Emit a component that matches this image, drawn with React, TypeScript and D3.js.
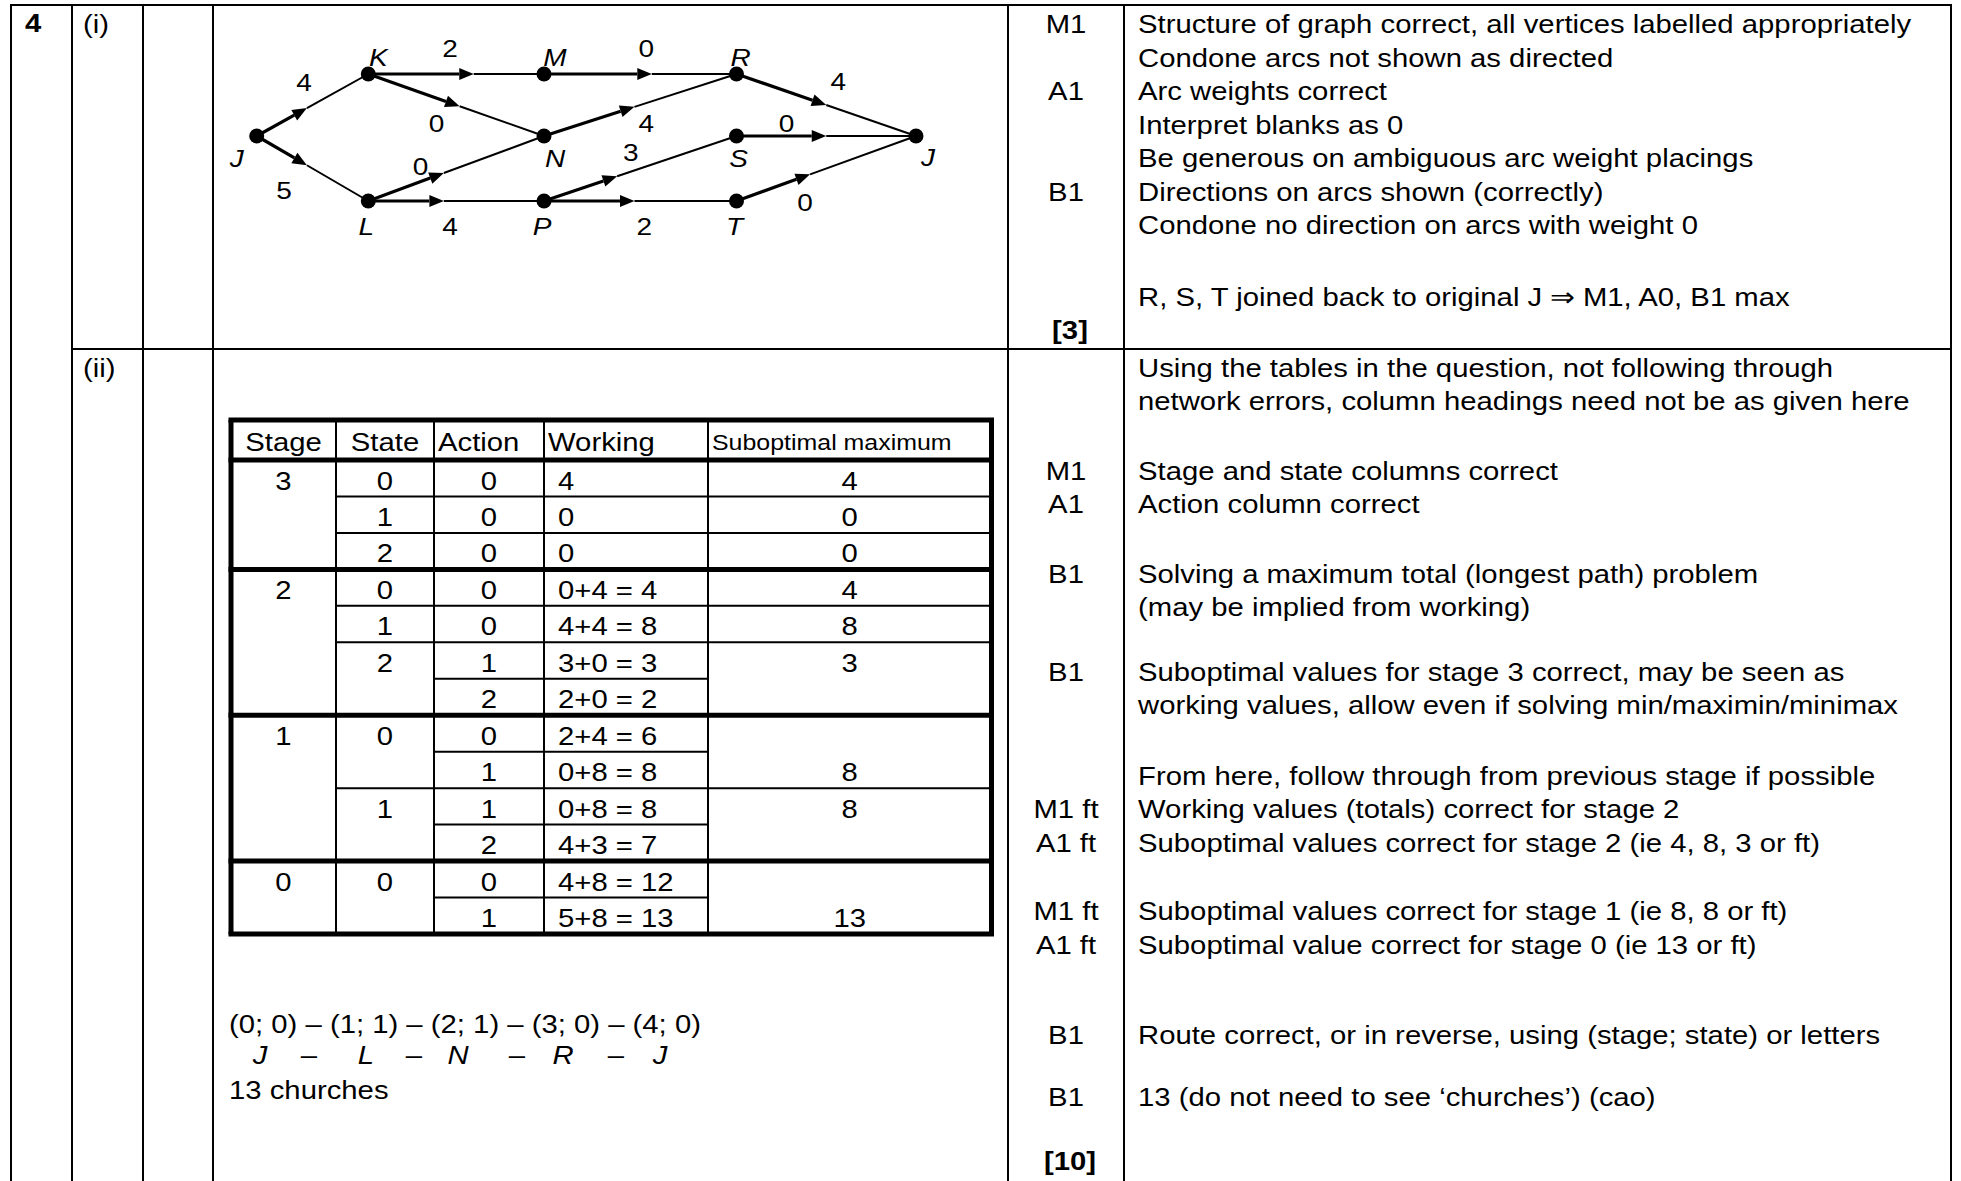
import React from 'react';
import * as d3 from 'd3';

// ---------------- DATA ----------------
// Network (part i)
const nodeIds = ['J0', 'K', 'L', 'M', 'N', 'P', 'R', 'S', 'T', 'J1'];
const nodeNames = ['J', 'K', 'L', 'M', 'N', 'P', 'R', 'S', 'T', 'J'];
const nodeStage = [0, 1, 1, 2, 2, 2, 3, 3, 3, 4];
const nodeState = [1, 0, 2, 0, 1, 2, 0, 1, 2, 1];

const edgeFrom = ['J0', 'J0', 'K', 'M', 'K', 'L', 'N', 'L', 'P', 'P', 'R', 'S', 'T'];
const edgeTo = ['K', 'L', 'M', 'R', 'N', 'N', 'R', 'P', 'S', 'T', 'J1', 'J1', 'J1'];
const edgeWeight = ['4', '5', '2', '0', '0', '0', '4', '4', '3', '2', '4', '0', '0'];

// Dynamic programming table (part ii)
const tableHeaders = ['Stage', 'State', 'Action', 'Working', 'Suboptimal maximum'];
const stageLabels = ['3', '', '', '2', '', '', '', '1', '', '', '', '0', ''];
const stateLabels = ['0', '1', '2', '0', '1', '2', '', '0', '', '1', '', '0', ''];
const actionLabels = ['0', '0', '0', '0', '0', '1', '2', '0', '1', '1', '2', '0', '1'];
const workingLabels = ['4', '0', '0', '0+4 = 4', '4+4 = 8', '3+0 = 3', '2+0 = 2', '2+4 = 6', '0+8 = 8', '0+8 = 8', '4+3 = 7', '4+8 = 12', '5+8 = 13'];
const suboptLabels = ['4', '0', '0', '4', '8', '3', '', '', '8', '8', '', '', '13'];
const stageBreaks = [3, 7, 11];          // rows starting a new stage
const stateBreaks = [1, 2, 4, 5, 9];     // rows starting a new state (within a stage)
const actionBreaks = [6, 8, 10, 12];     // rows starting a new action (same state)

const routeStates = '(0; 0) – (1; 1) – (2; 1) – (3; 0) – (4; 0)';
const routeLetters = ['J', '–', 'L', '–', 'N', '–', 'R', '–', 'J'];
const answerText = '13 churches';

// Mark scheme
const partLabels = ['(i)', '(ii)'];
const questionNo = '4';
const notesI = [
  ['M1', 'Structure of graph correct, all vertices labelled appropriately'],
  ['', 'Condone arcs not shown as directed'],
  ['A1', 'Arc weights correct'],
  ['', 'Interpret blanks as 0'],
  ['', 'Be generous on ambiguous arc weight placings'],
  ['B1', 'Directions on arcs shown (correctly)'],
  ['', 'Condone no direction on arcs with weight 0'],
  ['', 'R, S, T joined back to original J \u21D2 M1, A0, B1 max'],
];
const notesII = [
  ['', 'Using the tables in the question, not following through'],
  ['', 'network errors, column headings need not be as given here'],
  ['M1', 'Stage and state columns correct'],
  ['A1', 'Action column correct'],
  ['B1', 'Solving a maximum total (longest path) problem'],
  ['', '(may be implied from working)'],
  ['B1', 'Suboptimal values for stage 3 correct, may be seen as'],
  ['', 'working values, allow even if solving min/maximin/minimax'],
  ['', 'From here, follow through from previous stage if possible'],
  ['M1 ft', 'Working values (totals) correct for stage 2'],
  ['A1 ft', 'Suboptimal values correct for stage 2 (ie 4, 8, 3 or ft)'],
  ['M1 ft', 'Suboptimal values correct for stage 1 (ie 8, 8 or ft)'],
  ['A1 ft', 'Suboptimal value correct for stage 0 (ie 13 or ft)'],
  ['B1', 'Route correct, or in reverse, using (stage; state) or letters'],
  ['B1', '13 (do not need to see \u2018churches\u2019) (cao)'],
];
const totals = ['[3]', '[10]'];

// ---------------- LAYOUT ----------------
const W = 1961;
const H = 1181;
const SX = 1.144; // horizontal stretch of the source rendering
const FS = 25.6;
const FONT = '"Liberation Sans", Arial, Helvetica, sans-serif';

const colEdges = [11, 72, 143, 213, 1008, 1124, 1951];
const topY = 5;
const midY = 349;

const notesIY = [33, 66.5, 100, 133.5, 167, 200.5, 234, 306];
const notesIIY = [377, 410, 480, 513, 583, 616, 681, 714, 785, 818, 852, 920, 954, 1044, 1106];
const totalsY = [339, 1170];
const markX = (colEdges[4] + colEdges[5]) / 2;
const noteX = 1138;

// network scales
const xStage = d3.scaleOrdinal<number, number>().domain([0, 1, 2, 3, 4]).range([256.7, 368.3, 544, 736.5, 916]);
const yState = d3.scaleOrdinal<number, number>().domain([0, 1, 2]).range([74, 136, 201]);
const labelOff: Record<string, [number, number]> = {
  J0: [-20, 22], K: [10, -17], L: [-2, 25], M: [11, -17], N: [11, 22], P: [-2, 25],
  R: [4, -17], S: [2, 22], T: [-2, 25], J1: [12, 21],
};
const weightOff: [number, number][] = [
  [-8.5, -23], [-28.5, 22], [-6, -25.7], [6, -25.7], [-19.5, 18.3], [-35.5, -2.8], [6, 18.3],
  [-6, 25], [-9.5, -16.8], [4, 25], [12, -23.6], [-39.6, -13], [-21.3, 34],
];
const arrowFrac = [0.45, 0.45, 0.6, 0.56, 0.52, 0.43, 0.47, 0.43, 0.38, 0.47, 0.5, 0.5, 0.41];

// table layout
const tX = { left: 231, c1: 336, c2: 434, c3: 544, c4: 708, right: 991.5 };
const headTop = 420;
const rowY = d3.scaleLinear().domain([0, 13]).range([460, 934]);

// ---------------- HELPERS ----------------
function T(props: {
  x: number; y: number; children: React.ReactNode; anchor?: string; size?: number;
  bold?: boolean; italic?: boolean;
}) {
  const { x, y, children, anchor = 'start', size = FS, bold, italic } = props;
  return (
    <text
      transform={`translate(${x},${y}) scale(${SX},1)`}
      textAnchor={anchor as any}
      fontSize={size}
      fontFamily={FONT}
      fontWeight={bold ? 'bold' : 'normal'}
      fontStyle={italic ? 'italic' : 'normal'}
      fill="#000"
    >
      {children}
    </text>
  );
}

function Network() {
  const pos = (id: string) => {
    const i = nodeIds.indexOf(id);
    return [xStage(nodeStage[i]), yState(nodeState[i])] as [number, number];
  };
  const capShift = 0.36 * 24.5;
  return (
    <g>
      {edgeFrom.map((f, i) => {
        const [x1, y1] = pos(f);
        const [x2, y2] = pos(edgeTo[i]);
        const dx = x2 - x1, dy = y2 - y1;
        const len = Math.hypot(dx, dy);
        const ux = dx / len, uy = dy / len;
        const nx = -uy, ny = ux;
        const tx = x1 + dx * arrowFrac[i], ty = y1 + dy * arrowFrac[i];
        const L = 14.5, Wd = 6;
        const bx = tx - ux * L, by = ty - uy * L;
        const tri = d3.path();
        tri.moveTo(tx, ty);
        tri.lineTo(bx + nx * Wd, by + ny * Wd);
        tri.lineTo(bx - nx * Wd, by - ny * Wd);
        tri.closePath();
        const mx = (x1 + x2) / 2 + weightOff[i][0];
        const my = (y1 + y2) / 2 + weightOff[i][1];
        return (
          <g key={i}>
            <line x1={x1} y1={y1} x2={bx} y2={by} stroke="#000" strokeWidth={3.2} />
            <line x1={tx} y1={ty} x2={x2} y2={y2} stroke="#000" strokeWidth={2} />
            <path d={tri.toString()} fill="#000" />
            <T x={mx} y={my + capShift} anchor="middle" size={24.5}>{edgeWeight[i]}</T>
          </g>
        );
      })}
      {nodeIds.map((id, i) => {
        const [x, y] = pos(id);
        const o = labelOff[id];
        return (
          <g key={id}>
            <circle cx={x} cy={y} r={7.5} fill="#000" />
            <T x={x + o[0]} y={y + o[1] + capShift} anchor="middle" size={24.5} italic>{nodeNames[i]}</T>
          </g>
        );
      })}
    </g>
  );
}

function DPTable() {
  const thick = 5;
  const thin = 2;
  const bottom = rowY(13);
  const textY = (r: number) => rowY(r) + 29.5;
  const centers = {
    stage: (tX.left + tX.c1) / 2,
    state: (tX.c1 + tX.c2) / 2,
    action: (tX.c2 + tX.c3) / 2,
    sub: (tX.c4 + tX.right) / 2,
  };
  return (
    <g>
      {stateBreaks.map((r) => (
        <line key={'s' + r} x1={tX.c1} x2={tX.right} y1={rowY(r)} y2={rowY(r)} stroke="#000" strokeWidth={thin} />
      ))}
      {actionBreaks.map((r) => (
        <line key={'a' + r} x1={tX.c2} x2={tX.c4} y1={rowY(r)} y2={rowY(r)} stroke="#000" strokeWidth={thin} />
      ))}
      {[tX.c1, tX.c2, tX.c3, tX.c4].map((x) => (
        <line key={'v' + x} x1={x} x2={x} y1={headTop} y2={bottom} stroke="#000" strokeWidth={thin} />
      ))}
      {[headTop, rowY(0), ...stageBreaks.map((r) => rowY(r)), bottom].map((y, i) => (
        <line key={'t' + i} x1={tX.left - thick / 2} x2={tX.right + thick / 2} y1={y} y2={y} stroke="#000" strokeWidth={thick} />
      ))}
      <line x1={tX.left} x2={tX.left} y1={headTop} y2={bottom} stroke="#000" strokeWidth={thick} />
      <line x1={tX.right} x2={tX.right} y1={headTop} y2={bottom} stroke="#000" strokeWidth={thick} />

      <T x={centers.stage} y={451} anchor="middle">{tableHeaders[0]}</T>
      <T x={centers.state} y={451} anchor="middle">{tableHeaders[1]}</T>
      <T x={tX.c2 + 4} y={451}>{tableHeaders[2]}</T>
      <T x={tX.c3 + 4} y={451}>{tableHeaders[3]}</T>
      <T x={tX.c4 + 4} y={450} size={21.8}>{tableHeaders[4]}</T>

      {actionLabels.map((_, r) => (
        <g key={'r' + r}>
          {stageLabels[r] && <T x={centers.stage} y={textY(r)} anchor="middle">{stageLabels[r]}</T>}
          {stateLabels[r] && <T x={centers.state} y={textY(r)} anchor="middle">{stateLabels[r]}</T>}
          <T x={centers.action} y={textY(r)} anchor="middle">{actionLabels[r]}</T>
          <T x={tX.c3 + 14} y={textY(r)}>{workingLabels[r]}</T>
          {suboptLabels[r] && <T x={centers.sub} y={textY(r)} anchor="middle">{suboptLabels[r]}</T>}
        </g>
      ))}
    </g>
  );
}

const routeLetterX = [260, 309, 366, 414, 458, 517, 563, 616, 660];

export default function App() {
  const lw = 2;
  return (
    <svg
      width={W}
      height={H}
      viewBox={`0 0 ${W} ${H}`}
      style={{ position: 'absolute', left: 0, top: 0, background: '#fff', display: 'block' }}
    >
      <rect x={0} y={0} width={W} height={H} fill="#fff" />
      <line x1={colEdges[0] - 1} x2={colEdges[6] + 1} y1={topY} y2={topY} stroke="#000" strokeWidth={lw} />
      <line x1={colEdges[1]} x2={colEdges[6] + 1} y1={midY} y2={midY} stroke="#000" strokeWidth={lw} />
      {colEdges.map((x) => (
        <line key={x} x1={x} x2={x} y1={topY} y2={H} stroke="#000" strokeWidth={lw} />
      ))}

      <T x={25} y={32} bold>{questionNo}</T>
      <T x={83} y={33}>{partLabels[0]}</T>
      <T x={83} y={377}>{partLabels[1]}</T>

      <Network />
      <DPTable />

      <T x={229} y={1033}>{routeStates}</T>
      {routeLetters.map((s, i) => (
        <T key={i} x={routeLetterX[i]} y={1064} anchor="middle" italic={s !== '–'}>{s}</T>
      ))}
      <T x={229} y={1099}>{answerText}</T>

      {notesI.map(([m, t], i) => (
        <g key={'n1' + i}>
          {m && <T x={markX} y={notesIY[i]} anchor="middle">{m}</T>}
          <T x={noteX} y={notesIY[i]}>{t}</T>
        </g>
      ))}
      {notesII.map(([m, t], i) => (
        <g key={'n2' + i}>
          {m && <T x={markX} y={notesIIY[i]} anchor="middle">{m}</T>}
          <T x={noteX} y={notesIIY[i]}>{t}</T>
        </g>
      ))}
      {totals.map((t, i) => (
        <T key={t} x={markX + 4} y={totalsY[i]} anchor="middle" bold>{t}</T>
      ))}
    </svg>
  );
}
